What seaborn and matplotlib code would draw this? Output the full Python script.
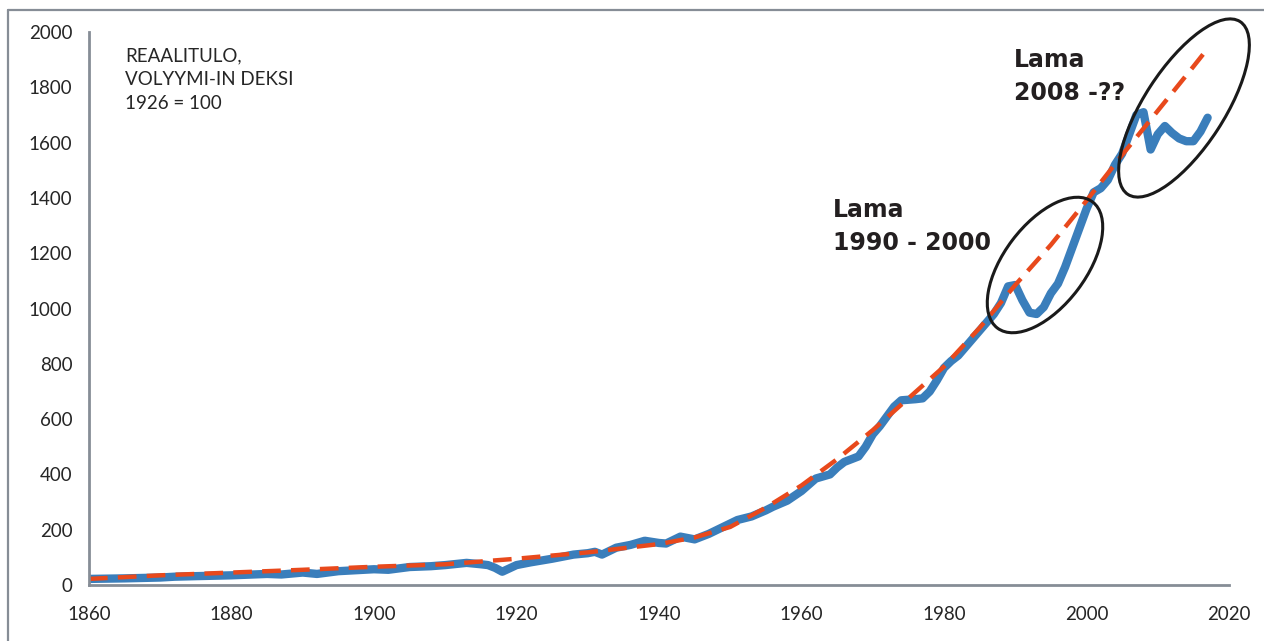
import matplotlib
matplotlib.use("Agg")
import matplotlib.pyplot as plt
import seaborn as sns
import pandas as pd
from matplotlib.patches import Ellipse
from matplotlib.lines import Line2D
from matplotlib.transforms import IdentityTransform

# ---- data ----
income_years = [1860, 1865, 1870, 1872, 1875, 1880, 1885, 1887, 1890, 1892, 1895,
                1900, 1902, 1905, 1908, 1910, 1913, 1915, 1916, 1917, 1918, 1919,
                1920, 1922, 1925, 1928, 1930, 1931, 1932, 1934, 1936, 1938, 1940,
                1941, 1943, 1945, 1947, 1949, 1951, 1953, 1955, 1956, 1958, 1960,
                1962, 1964, 1965, 1966, 1968, 1969, 1970, 1971, 1972, 1973, 1974,
                1976, 1977, 1978, 1979, 1980, 1981, 1982, 1983, 1984, 1985, 1986,
                1987, 1988, 1989, 1990, 1991, 1992, 1993, 1994, 1995, 1996, 1997,
                1998, 1999, 2000, 2001, 2002, 2003, 2004, 2005, 2006, 2007, 2008,
                2009, 2010, 2011, 2012, 2013, 2014, 2015, 2016, 2017]
income_index = [22, 24, 27, 30, 32, 35, 40, 38, 45, 40, 50,
                57, 55, 65, 68, 72, 80, 75, 72, 62, 48, 60,
                72, 82, 95, 110, 115, 120, 110, 135, 145, 160, 152,
                150, 175, 165, 185, 210, 235, 248, 270, 283, 305, 340,
                385, 400, 425, 445, 465, 500, 545, 575, 610, 645, 668,
                672, 675, 700, 740, 785, 810, 830, 860, 890, 920, 950,
                980, 1020, 1080, 1085, 1030, 985, 980, 1005, 1055, 1090, 1150,
                1220, 1290, 1360, 1420, 1435, 1465, 1520, 1560, 1630, 1700, 1710,
                1575, 1630, 1660, 1635, 1615, 1605, 1605, 1640, 1690]

trend_years = [1860, 1870, 1880, 1890, 1900, 1910, 1920, 1930, 1940, 1945, 1950,
               1955, 1960, 1965, 1970, 1975, 1980, 1985, 1990, 1995, 2000, 2005,
               2010, 2015, 2017]
trend_index = [22, 35, 45, 55, 66, 75, 95, 118, 148, 172, 210,
               280, 360, 455, 560, 675, 790, 930, 1085, 1230, 1390, 1555,
               1715, 1875, 1940]

x_ticks = [1860, 1880, 1900, 1920, 1940, 1960, 1980, 2000, 2020]
y_ticks = [0, 200, 400, 600, 800, 1000, 1200, 1400, 1600, 1800, 2000]

title_text = "REAALITULO,\nVOLYYMI-IN DEKSI\n1926 = 100"
note1_text = "Lama\n1990 - 2000"
note2_text = "Lama\n2008 -??"

# ---- style ----
sns.set_style("white")
plt.rcParams['font.family'] = ['Lato', 'DejaVu Sans']

W, H = 1264, 641
fig = plt.figure(figsize=(W / 100, H / 100), dpi=100)
ax = fig.add_axes([89 / W, 56 / H, (1229 - 89) / W, (585 - 32) / H])

df_income = pd.DataFrame({"year": income_years, "index": income_index})
df_trend = pd.DataFrame({"year": trend_years, "index": trend_index})

blue = "#3A7EBB"
red = "#E8491C"
spine_c = "#868D96"

sns.lineplot(data=df_income, x="year", y="index", color=blue, linewidth=6.0,
             ax=ax, solid_joinstyle="round", solid_capstyle="round")
sns.lineplot(data=df_trend, x="year", y="index", color=red, linewidth=3.2,
             ax=ax, linestyle="--")
ax.lines[-1].set_dashes((4.2, 2.3))

ax.set_xlim(1860, 2020)
ax.set_ylim(0, 2000)
ax.set_xticks(x_ticks)
ax.set_yticks(y_ticks)
ax.set_xlabel("")
ax.set_ylabel("")
for s in ["top", "right"]:
    ax.spines[s].set_visible(False)
for s in ["left", "bottom"]:
    ax.spines[s].set_color(spine_c)
    ax.spines[s].set_linewidth(2.0)
ax.tick_params(axis="both", direction="out", length=5, width=2.2, color=spine_c,
               labelsize=13.5, labelcolor="#262626", pad=7)
ax.tick_params(axis="x", pad=10)
ax.grid(False)

# annotation texts
fig.text(125 / W, 1 - 47 / H, title_text, ha="left", va="top", fontsize=13.5,
         fontweight="normal", color="#262626", linespacing=1.5)
fig.text(833 / W, 1 - 198 / H, note1_text, ha="left", va="top", fontsize=17,
         fontweight="bold", color="#231F20", linespacing=1.45,
         family=["DejaVu Sans"])
fig.text(1014 / W, 1 - 48 / H, note2_text, ha="left", va="top", fontsize=17,
         fontweight="bold", color="#231F20", linespacing=1.45,
         family=["DejaVu Sans"])

# ellipses in pixel space
ell1 = Ellipse((1045, H - 265), width=158, height=82, angle=53,
               transform=IdentityTransform(), fill=False, edgecolor="#1A1A1A",
               linewidth=2.2)
ell2 = Ellipse((1184, H - 108), width=206, height=80, angle=57,
               transform=IdentityTransform(), fill=False, edgecolor="#1A1A1A",
               linewidth=2.2)
fig.add_artist(ell1)
fig.add_artist(ell2)

# outer frame (top and left visible)
fig.add_artist(Line2D([8, 8], [-5, H - 10], transform=IdentityTransform(),
                      color=spine_c, linewidth=1.6))
fig.add_artist(Line2D([8, W + 5], [H - 10, H - 10], transform=IdentityTransform(),
                      color=spine_c, linewidth=1.6))

fig.savefig("out.png", dpi=100)
